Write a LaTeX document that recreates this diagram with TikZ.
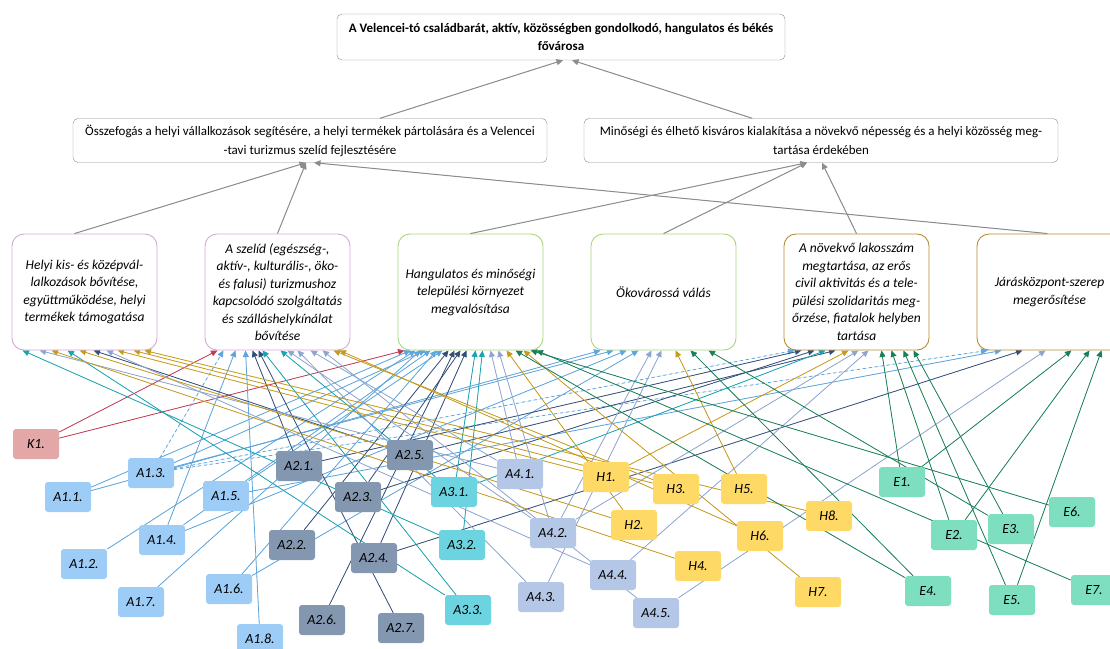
\documentclass[tikz,border=0pt]{standalone}
\usepackage{fontspec}
\setmainfont{Carlito}
\usetikzlibrary{arrows.meta, backgrounds}
\definecolor{kfill}{HTML}{E3A7A7}
\definecolor{kcol}{HTML}{C23B55}
\definecolor{aonefill}{HTML}{9DCCF6}
\definecolor{aonecol}{HTML}{5DA5DC}
\definecolor{atwofill}{HTML}{8497B0}
\definecolor{atwocol}{HTML}{34507A}
\definecolor{athreefill}{HTML}{6CD4E0}
\definecolor{athreecol}{HTML}{1AA3B0}
\definecolor{afourfill}{HTML}{B4C7E7}
\definecolor{afourcol}{HTML}{8EA6CF}
\definecolor{hfill}{HTML}{FFD966}
\definecolor{hcol}{HTML}{C59B1E}
\definecolor{efill}{HTML}{7DDFC0}
\definecolor{ecol}{HTML}{1A8058}
\definecolor{pcol}{HTML}{D4A8D8}
\definecolor{gcol}{HTML}{A9D57A}
\definecolor{bcol}{HTML}{B48C34}
\definecolor{arrgray}{HTML}{8C8C8C}
\tikzstyle{vision} = [rectangle, rounded corners=5pt, minimum width=448pt, minimum height=46pt, align=center, draw=arrgray, fill=white, font=\bfseries\fontsize{13}{18}\selectfont]
\tikzstyle{goal} = [rectangle, rounded corners=5pt, minimum width=474pt, minimum height=44pt, inner sep=3pt, align=center, draw=arrgray, fill=white, font=\fontsize{13}{19}\selectfont]
\tikzstyle{prio} = [rectangle, rounded corners=12pt, minimum width=145pt, minimum height=116pt, inner sep=2pt, align=center, fill=white, line width=0.9pt, font=\itshape\fontsize{13.5}{17.5}\selectfont]
\tikzstyle{prioa} = [prio, draw=pcol]
\tikzstyle{priob} = [prio, draw=gcol]
\tikzstyle{prioc} = [prio, draw=bcol]
\tikzstyle{meas} = [rectangle, rounded corners=3pt, minimum width=46pt, minimum height=30pt, inner sep=1pt, font=\itshape\fontsize{14}{14}\selectfont]
\tikzstyle{kmeas} = [meas, fill=kfill]
\tikzstyle{aone} = [meas, fill=aonefill]
\tikzstyle{atwo} = [meas, fill=atwofill]
\tikzstyle{athree} = [meas, fill=athreefill]
\tikzstyle{afour} = [meas, fill=afourfill]
\tikzstyle{hmeas} = [meas, fill=hfill]
\tikzstyle{emeas} = [meas, fill=efill]
\tikzstyle{arrow} = [line width=0.8pt, -{Triangle[length=6.5pt,width=6pt]}]
\tikzstyle{garrow} = [arrow, draw=arrgray, fill=arrgray, line width=1pt]
\tikzstyle{klink} = [arrow, draw=kcol, fill=kcol]
\tikzstyle{aonelink} = [arrow, draw=aonecol, fill=aonecol]
\tikzstyle{atwolink} = [arrow, draw=atwocol, fill=atwocol]
\tikzstyle{athreelink} = [arrow, draw=athreecol, fill=athreecol]
\tikzstyle{afourlink} = [arrow, draw=afourcol, fill=afourcol]
\tikzstyle{hlink} = [arrow, draw=hcol, fill=hcol]
\tikzstyle{elink} = [arrow, draw=ecol, fill=ecol]
\begin{document}
\begin{tikzpicture}[x=1pt, y=-1pt, node distance=193pt]
\useasboundingbox (0,0) rectangle (1110,648);
\node (vis) [vision] at (561,37) {A Velencei-tó családbarát, aktív, közösségben gondolkodó, hangulatos és békés\\ fővárosa};
\node (g1) [goal] at (310,140.5) {Összefogás a helyi vállalkozások segítésére, a helyi termékek pártolására és a Velencei\\ -tavi turizmus szelíd fejlesztésére};
\node (g2) [goal] at (821,140.5) {Minőségi és élhető kisváros kialakítása a növekvő népesség és a helyi közösség meg-\\ tartása érdekében};

\node (b1) [prioa] at (84.5,292) {Helyi kis- és középvál-\\ lalkozások bővítése,\\ együttműködése, helyi\\ termékek támogatása};
\node (b2) [prioa, right of=b1] {A szelíd (egészség-,\\ aktív-, kulturális-, öko-\\ és falusi) turizmushoz\\ kapcsolódó szolgáltatás\\ és szálláshelykínálat\\ bővítése};
\node (b3) [priob, right of=b2] {Hangulatos és minőségi\\ települési környezet\\ megvalósítása};
\node (b4) [priob, right of=b3] {Ökovárossá válás};
\node (b5) [prioc, right of=b4] {A növekvő lakosszám\\ megtartása, az erős\\ civil aktivitás és a tele-\\ pülési szolidaritás meg-\\ őrzése, fiatalok helyben\\ tartása};
\node (b6) [prioc, right of=b5] {Járásközpont-szerep\\ megerősítése};

\node (k1) [kmeas] at (36,444) {K1.};
\node (a11) [aone] at (68,497) {A1.1.};
\node (a12) [aone] at (84,564) {A1.2.};
\node (a13) [aone] at (151,473) {A1.3.};
\node (a14) [aone] at (162,540) {A1.4.};
\node (a15) [aone] at (226,496) {A1.5.};
\node (a16) [aone] at (229,589) {A1.6.};
\node (a17) [aone] at (141,602) {A1.7.};
\node (a18) [aone] at (260,639) {A1.8.};
\node (a21) [atwo] at (299,466) {A2.1.};
\node (a22) [atwo] at (292,545) {A2.2.};
\node (a23) [atwo] at (358,497) {A2.3.};
\node (a24) [atwo] at (374,558) {A2.4.};
\node (a25) [atwo] at (410,455) {A2.5.};
\node (a26) [atwo] at (322,620) {A2.6.};
\node (a27) [atwo] at (401,628) {A2.7.};
\node (a31) [athree] at (454,492) {A3.1.};
\node (a32) [athree] at (462,545) {A3.2.};
\node (a33) [athree] at (468,610) {A3.3.};
\node (a41) [afour] at (520,474) {A4.1.};
\node (a42) [afour] at (553,533) {A4.2.};
\node (a43) [afour] at (541,597) {A4.3.};
\node (a44) [afour] at (613,575) {A4.4.};
\node (a45) [afour] at (656,613) {A4.5.};
\node (h1) [hmeas] at (606,477) {H1.};
\node (h2) [hmeas] at (634,525) {H2.};
\node (h3) [hmeas] at (676,489) {H3.};
\node (h4) [hmeas] at (698,566) {H4.};
\node (h5) [hmeas] at (744,489) {H5.};
\node (h6) [hmeas] at (760,536) {H6.};
\node (h7) [hmeas] at (818,592) {H7.};
\node (h8) [hmeas] at (829,516) {H8.};
\node (e1) [emeas] at (902,482) {E1.};
\node (e2) [emeas] at (954,535) {E2.};
\node (e3) [emeas] at (1011,529) {E3.};
\node (e4) [emeas] at (928,591) {E4.};
\node (e5) [emeas] at (1012,600) {E5.};
\node (e6) [emeas] at (1072,512) {E6.};
\node (e7) [emeas] at (1094,590) {E7.};

\draw [garrow] (g1) -- ([xshift=2pt]vis.south);
\draw [garrow] (g2) -- ([xshift=11pt]vis.south);
\draw [garrow] ([xshift=-10pt]b1.north) -- ([xshift=-4pt]g1.south);
\draw [garrow] (b2.north) -- ([xshift=-4pt]g1.south);
\draw [garrow] ([xshift=-2pt]b6.north) -- ([xshift=4pt]g1.south);
\draw [garrow] (b3.north) -- ([xshift=-14pt]g2.south);
\draw [garrow] (b4.north) -- ([xshift=-14pt]g2.south);
\draw [garrow] (b5.north) -- ([xshift=1pt]g2.south);

\begin{pgfonlayer}{background}
\draw [klink] (k1) -- ([xshift=-60pt]b2.south);
\draw [klink] (k1) -- ([xshift=-66pt]b3.south);

\draw [aonelink] (a11) -- ([xshift=-60pt]b3.south);
\draw [aonelink] (a11) -- ([xshift=-63pt]b4.south);
\draw [aonelink] (a12) -- ([xshift=-55pt]b3.south);
\draw [aonelink, dashed] (a13) -- ([xshift=-54pt]b2.south);
\draw [aonelink] (a13) -- ([xshift=-45pt]b3.south);
\draw [aonelink] (a13) -- ([xshift=-50pt]b4.south);
\draw [aonelink, dashed] (a13) -- ([xshift=-62pt]b5.south);
\draw [aonelink, dashed] (a13) -- ([xshift=-62pt]b6.south);
\draw [aonelink] (a14) -- ([xshift=-42pt]b2.south);
\draw [aonelink] (a14) -- ([xshift=-40pt]b3.south);
\draw [aonelink] (a14) -- ([xshift=-37pt]b4.south);
\draw [aonelink] (a15) -- ([xshift=-28pt]b3.south);
\draw [aonelink] (a15) -- ([xshift=-48pt]b6.south);
\draw [aonelink] (a16) -- ([xshift=-34pt]b3.south);
\draw [aonelink] (a16) -- ([xshift=-25pt]b4.south);
\draw [aonelink] (a17) -- ([xshift=-50pt]b3.south);
\draw [aonelink] (a18) -- ([xshift=-32pt]b2.south);

\draw [atwolink] (a21) -- ([xshift=-25pt]b2.south);
\draw [atwolink] (a21) -- ([xshift=-55pt]b5.south);
\draw [atwolink] (a22) -- ([xshift=-22pt]b3.south);
\draw [atwolink] (a23) -- ([xshift=-10pt]b3.south);
\draw [atwolink] (a23) -- ([xshift=-42pt]b5.south);
\draw [atwolink] (a24) -- ([xshift=-4pt]b3.south);
\draw [atwolink] (a24) -- ([xshift=-27pt]b6.south);
\draw [atwolink] (a25) -- ([xshift=9pt]b1.south);
\draw [atwolink] (a25) -- ([xshift=-21pt]b5.south);
\draw [atwolink] (a26) -- ([xshift=-16pt]b3.south);
\draw [atwolink] (a27) -- ([xshift=-19pt]b2.south);

\draw [athreelink] (a31) -- ([xshift=3pt]b2.south);
\draw [athreelink] (a31) -- ([xshift=5pt]b3.south);
\draw [athreelink] (a31) -- ([xshift=-31pt]b5.south);
\draw [athreelink] (a32) -- ([xshift=-62pt]b1.south);
\draw [athreelink] (a32) -- ([xshift=12pt]b3.south);
\draw [athreelink] (a33) -- ([xshift=-17pt]b1.south);
\draw [athreelink] (a33) -- ([xshift=-15pt]b2.south);

\draw [afourlink] (a41) -- ([xshift=-45pt]b1.south);
\draw [afourlink] (a41) -- ([xshift=33pt]b2.south);
\draw [afourlink] (a41) -- ([xshift=20pt]b3.south);
\draw [afourlink] (a42) -- ([xshift=10pt]b2.south);
\draw [afourlink] (a42) -- ([xshift=28pt]b3.south);
\draw [afourlink] (a42) -- ([xshift=-12pt]b4.south);
\draw [afourlink] (a42) -- ([xshift=2pt]b5.south);
\draw [afourlink] (a43) -- ([xshift=20pt]b2.south);
\draw [afourlink] (a43) -- ([xshift=-2pt]b4.south);
\draw [afourlink] (a44) -- ([xshift=22pt]b1.south);
\draw [afourlink] (a44) -- ([xshift=12pt]b5.south);
\draw [afourlink] (a45) -- ([xshift=45pt]b2.south);
\draw [afourlink] (a45) -- ([xshift=-4pt]b6.south);

\draw [hlink] (h1) -- ([xshift=33pt]b1.south);
\draw [hlink] (h1) -- ([xshift=-8pt]b5.south);
\draw [hlink] (h2) -- ([xshift=-5pt]b1.south);
\draw [hlink] (h2) -- ([xshift=36pt]b3.south);
\draw [hlink] (h3) -- ([xshift=49pt]b1.south);
\draw [hlink] (h3) -- ([xshift=56pt]b2.south);
\draw [hlink] (h4) -- ([xshift=-33pt]b1.south);
\draw [hlink] (h5) -- ([xshift=12pt]b4.south);
\draw [hlink] (h6) -- ([xshift=62pt]b2.south);
\draw [hlink] (h7) -- ([xshift=53pt]b3.south);
\draw [hlink] (h8) -- ([xshift=60pt]b1.south);

\draw [elink] (e1) -- ([xshift=25pt]b5.south);
\draw [elink] (e1) -- ([xshift=22pt]b6.south);
\draw [elink] (e2) -- ([xshift=35pt]b5.south);
\draw [elink] (e2) -- ([xshift=40pt]b6.south);
\draw [elink] (e3) -- ([xshift=45pt]b4.south);
\draw [elink] (e3) -- ([xshift=57pt]b5.south);
\draw [elink] (e4) -- ([xshift=45pt]b3.south);
\draw [elink] (e4) -- ([xshift=27pt]b4.south);
\draw [elink] (e5) -- ([xshift=47pt]b5.south);
\draw [elink] (e5) -- ([xshift=52pt]b6.south);
\draw [elink] (e6) -- ([xshift=60pt]b3.south);
\draw [elink] (e7) -- ([xshift=66pt]b3.south);
\end{pgfonlayer}
\end{tikzpicture}
\end{document}
